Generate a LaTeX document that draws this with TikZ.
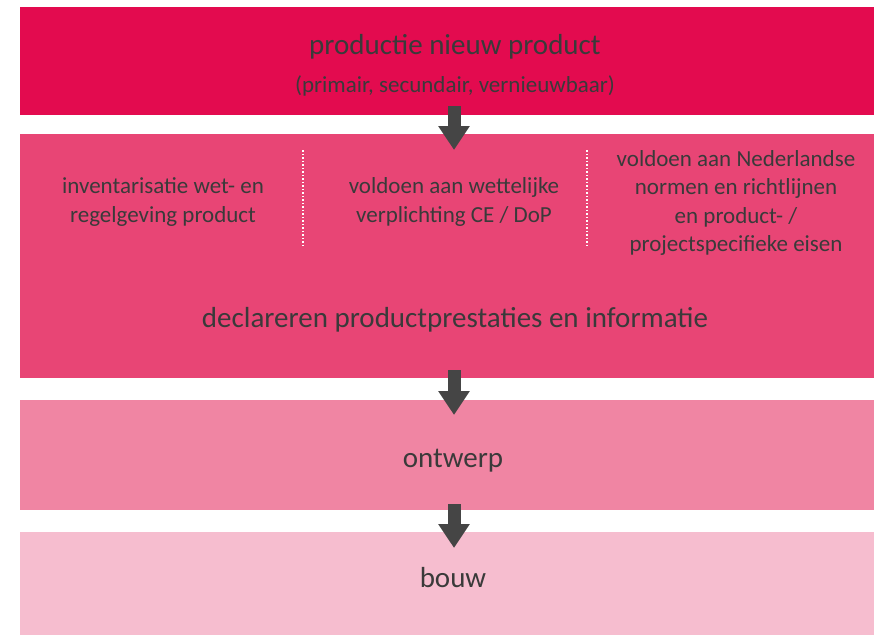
\documentclass[tikz,border=0pt]{standalone}
\usepackage{fontspec}
\setmainfont{Carlito}
\usetikzlibrary{arrows.meta}
\definecolor{rood}{HTML}{E30B4F}
\definecolor{roze}{HTML}{E84575}
\definecolor{lichtroze}{HTML}{F085A3}
\definecolor{bleekroze}{HTML}{F6BDCF}
\definecolor{tekst}{HTML}{3A3A3A}
\definecolor{pijl}{HTML}{454545}
\tikzset{
    blok/.style={fill=#1, draw=none},
    label/.style={text=tekst, font=\fontsize{23}{28.5}\selectfont, align=center},
    kop/.style={text=tekst, font=\fontsize{29}{30}\selectfont},
    pijlblok/.style={draw=pijl, line width=13pt, -{Triangle[length=24pt, width=30pt]}},
    stippel/.style={white, line width=1.5pt, dash pattern=on 1.5pt off 2pt}
}
\begin{document}
\begin{tikzpicture}[x=1pt, y=-1pt]
    \useasboundingbox (0, 0) rectangle (874, 635);
    % vlakken
    \fill[blok=rood] (20, 7) rectangle (874, 115);
    \fill[blok=roze] (20, 134) rectangle (874, 378);
    \fill[blok=lichtroze] (20, 400) rectangle (874, 510);
    \fill[blok=bleekroze] (20, 532) rectangle (874, 635);
    % teksten
    \node[kop] (productie) at (455, 47) {productie nieuw product};
    \node[label] (soort) at (455, 86) {(primair, secundair, vernieuwbaar)};
    \node[label] (inventarisatie) at (163, 202) {inventarisatie wet- en\\regelgeving product};
    \node[label] (wettelijk) at (454, 202) {voldoen aan wettelijke\\verplichting CE / DoP};
    \node[label] (normen) at (736, 203) {voldoen aan Nederlandse\\normen en richtlijnen\\en product- /\\projectspecifieke eisen};
    \node[kop] (declareren) at (455, 320) {declareren productprestaties en informatie};
    \node[kop] (ontwerp) at (453, 461) {ontwerp};
    \node[kop] (bouw) at (453, 578) {bouw};
    % stippellijnen
    \draw[stippel] (303, 150) -- (303, 245);
    \draw[stippel] (587, 150) -- (587, 245);
    % pijlen
    \coordinate (p1) at (454, 106);
    \coordinate (p2) at (454, 150);
    \coordinate (p3) at (454, 370);
    \coordinate (p4) at (454, 415);
    \coordinate (p5) at (454, 504);
    \coordinate (p6) at (454, 548);
    \draw[pijlblok] (p1) -- (p2);
    \draw[pijlblok] (p3) -- (p4);
    \draw[pijlblok] (p5) -- (p6);
\end{tikzpicture}
\end{document}
